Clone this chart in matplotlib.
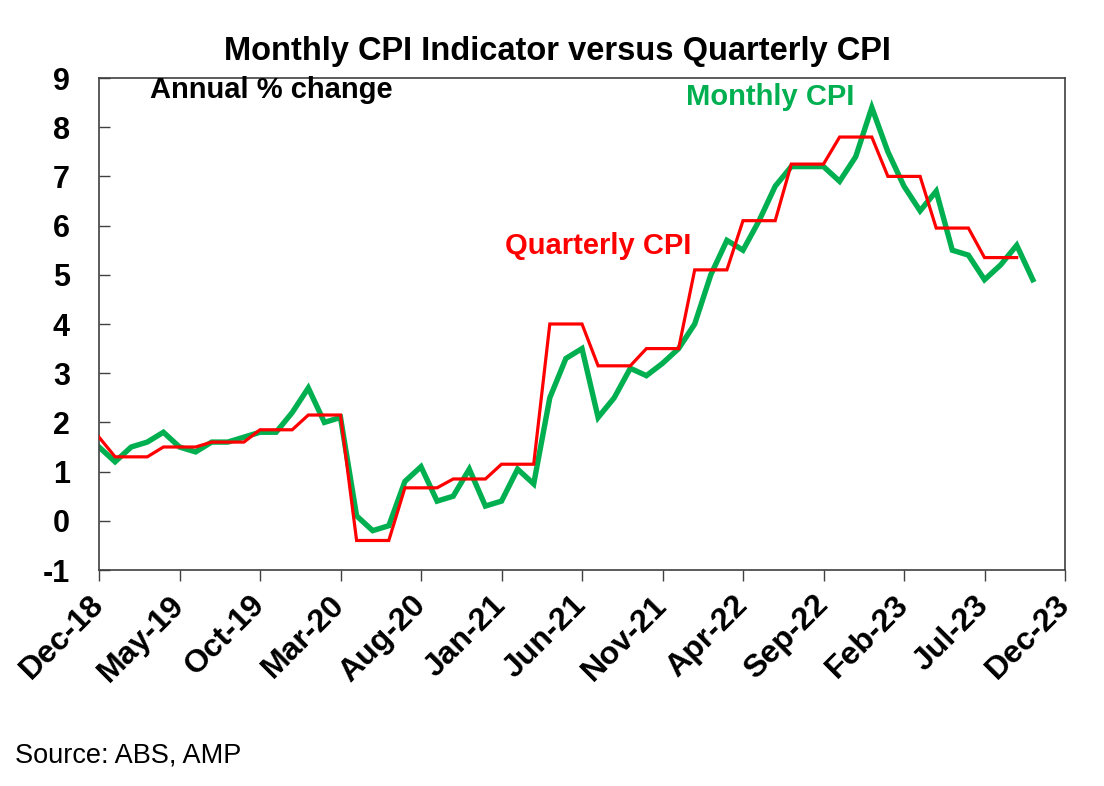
import numpy as np
import pandas as pd
import matplotlib
matplotlib.use('Agg')
import matplotlib.pyplot as plt

plt.rcParams['font.family'] = ['Liberation Sans', 'DejaVu Sans']

# monthly CPI indicator, annual % change, Dec-18 .. Oct-23
monthly_cpi = [1.5, 1.2, 1.5, 1.6, 1.8, 1.5, 1.4, 1.6, 1.6, 1.7, 1.8, 1.8,
               2.2, 2.7, 2.0, 2.1, 0.1, -0.2, -0.1, 0.8, 1.1, 0.4, 0.5, 1.05,
               0.3, 0.4, 1.05, 0.75, 2.5, 3.3, 3.5, 2.1, 2.5, 3.1, 2.95, 3.2,
               3.5, 4.0, 5.0, 5.7, 5.5, 6.1, 6.8, 7.2, 7.2, 7.2, 6.9, 7.4,
               8.4, 7.5, 6.8, 6.3, 6.7, 5.5, 5.4, 4.9, 5.2, 5.6, 4.9]

# quarterly CPI shown against each month, Dec-18 .. Sep-23
quarterly_cpi = [1.7, 1.3, 1.3, 1.3, 1.5, 1.5, 1.5, 1.6, 1.6, 1.6, 1.85, 1.85,
                 1.85, 2.15, 2.15, 2.15, -0.4, -0.4, -0.4, 0.67, 0.67, 0.67, 0.85, 0.85,
                 0.85, 1.15, 1.15, 1.15, 4.0, 4.0, 4.0, 3.15, 3.15, 3.15, 3.5, 3.5,
                 3.5, 5.1, 5.1, 5.1, 6.1, 6.1, 6.1, 7.25, 7.25, 7.25, 7.8, 7.8,
                 7.8, 7.0, 7.0, 7.0, 5.95, 5.95, 5.95, 5.35, 5.35, 5.35]

months = pd.date_range('2018-12-01', periods=len(monthly_cpi), freq='MS')
tick_labels = ['Dec-18', 'May-19', 'Oct-19', 'Mar-20', 'Aug-20', 'Jan-21', 'Jun-21',
               'Nov-21', 'Apr-22', 'Sep-22', 'Feb-23', 'Jul-23', 'Dec-23']

x_monthly = np.arange(len(monthly_cpi))
x_quarterly = np.arange(len(quarterly_cpi))

W, H = 1104, 786
fig = plt.figure(figsize=(W / 100, H / 100), dpi=100)
ax = fig.add_axes([99 / W, 1 - 570 / H, (1065 - 99) / W, (570 - 78) / H])

ax.plot(x_monthly, monthly_cpi, color='#00B050', lw=3.9, solid_joinstyle='miter', zorder=2)
ax.plot(x_quarterly, quarterly_cpi, color='#FF0000', lw=2.3, solid_joinstyle='miter', zorder=3)

ax.set_xlim(0, 60)
ax.set_ylim(-1, 9)
ax.set_xticks(np.arange(0, 61, 5))
ax.set_xticklabels(tick_labels, rotation=45, ha='right', va='center', rotation_mode='anchor',
                   fontsize=23, fontweight='bold')
ax.set_yticks(np.arange(-1, 10, 1))
ax.set_yticklabels([str(v) for v in range(-1, 10)], fontsize=22, fontweight='bold')
ax.tick_params(axis='x', direction='out', length=8, width=1, color='#404040', pad=14)
ax.tick_params(axis='y', direction='in', length=8, width=1, color='#404040', pad=21)
for s in ax.spines.values():
    s.set_color('#404040')
    s.set_linewidth(1.2)

def fx(px):
    return px / W

def fy(py):
    return 1 - py / H

fig.text(fx(557), fy(60), 'Monthly CPI Indicator versus Quarterly CPI', ha='center',
         va='baseline', fontsize=23.5, fontweight='bold')
fig.text(fx(150), fy(98), 'Annual % change', ha='left', va='baseline',
         fontsize=21, fontweight='bold')
fig.text(fx(686), fy(105), 'Monthly CPI', ha='left', va='baseline',
         fontsize=21, fontweight='bold', color='#00B050')
fig.text(fx(505), fy(254), 'Quarterly CPI', ha='left', va='baseline',
         fontsize=21, fontweight='bold', color='#FF0000')
fig.text(fx(15), fy(763), 'Source: ABS, AMP', ha='left', va='baseline', fontsize=19.5)

fig.savefig('out.png', dpi=100)
